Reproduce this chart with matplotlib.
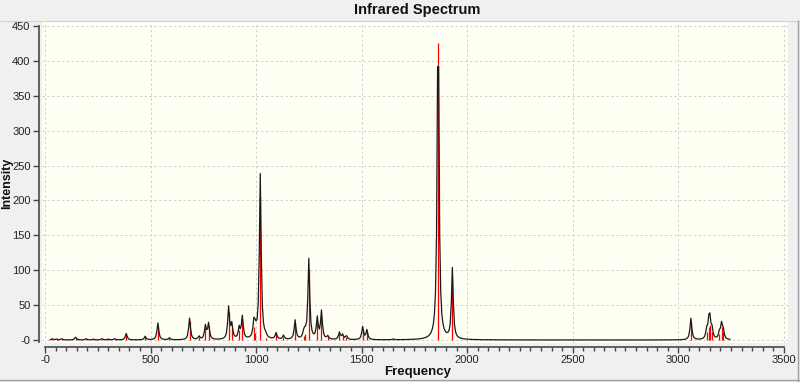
import numpy as np
import matplotlib

matplotlib.use("Agg")
import matplotlib.pyplot as plt
from matplotlib.lines import Line2D

plt.rcParams["font.family"] = ["Liberation Sans", "DejaVu Sans"]

# Calculated IR lines (frequency in cm^-1, intensity)
freqs = [35, 55, 80, 145, 195, 230, 270, 300, 330, 385, 475, 535, 590,
         685, 730, 760, 775, 870, 885, 920, 935, 990, 997, 1020, 1045,
         1095, 1130, 1185, 1225, 1232, 1250, 1290, 1310, 1340, 1395, 1410,
         1428, 1505, 1525, 1650, 1862.5, 1930, 3060, 3135, 3145, 3150,
         3160, 3195, 3205, 3213]
intens = [1.5, 1, 1.5, 3.5, 1.5, 1, 1.5, 1, 1.5, 8, 4.5, 21, 2.5,
          27, 4, 17, 20, 40, 18, 14, 28, 19, 10, 206, 3,
          8, 5, 24, 6, 8, 100, 26, 35, 4, 9, 6,
          5, 16, 12, 1, 425, 88, 27, 11, 18, 21,
          12, 8, 18, 11]

x_ticks = [0, 500, 1000, 1500, 2000, 2500, 3000, 3500]
x_labels = ["-0", "500", "1000", "1500", "2000", "2500", "3000", "3500"]
y_ticks = [0, 50, 100, 150, 200, 250, 300, 350, 400, 450]
y_labels = ["-0", "50", "100", "150", "200", "250", "300", "350", "400", "450"]

# Lorentzian broadening of the sticks, sampled coarsely like the viewer does
HWHM = 5.0
SCALE = 1.15
grid = np.arange(25, 3250, 5.0)
f = np.array(freqs)[:, None]
a = np.array(intens)[:, None]
curve = SCALE * (a / (1 + ((grid[None, :] - f) / HWHM) ** 2)).sum(axis=0)

fig = plt.figure(figsize=(8, 3.82), dpi=100, facecolor="#F0F0F0")
ax = fig.add_axes([0.0525, 0.1021, 0.9325, 0.8403], facecolor="#FFFFF4")

ax.vlines(freqs, 0, intens, color="#FF0000", lw=0.9, zorder=3)
ax.plot(grid, curve, color="#1A1A1A", lw=0.9, zorder=4)

ax.set_xlim(-14, 3520)
ax.set_ylim(-4.3, 455.6)

ax.set_xticks(x_ticks)
ax.set_xticklabels(x_labels)
ax.set_xticks(np.arange(0, 3501, 50), minor=True)
ax.set_yticks(y_ticks)
ax.set_yticklabels(y_labels)

ax.grid(True, color="#D0D0D0", lw=0.7, linestyle=(0, (2.5, 2.5)), zorder=0)

for s in ("top", "right"):
    ax.spines[s].set_visible(False)
ax.spines["left"].set_position(("outward", 2.2))
ax.spines["bottom"].set_position(("outward", 2.9))
ax.spines["left"].set_bounds(-3, 450)
ax.spines["bottom"].set_bounds(0, 3500)
for s in ("left", "bottom"):
    ax.spines[s].set_color("#555555")
    ax.spines[s].set_linewidth(1.3)

ax.tick_params(axis="both", which="major", labelsize=8, colors="#444444",
               labelcolor="#222222", width=1, length=4.5, pad=1.5)
ax.tick_params(axis="x", which="minor", colors="#444444", width=1, length=3)

fig.text(0.5219, 0.974, "Infrared Spectrum", ha="center", va="center",
         fontsize=10.5, fontweight="bold", color="#111111")
fig.text(0.5225, 0.027, "Frequency", ha="center", va="center",
         fontsize=9.5, fontweight="bold", color="#111111")
fig.text(0.009, 0.521, "Intensity", ha="center", va="center", rotation=90,
         fontsize=9, fontweight="bold", color="#111111")

# title bar separator and window edges
fig.add_artist(Line2D([0, 1], [0.945, 0.945], transform=fig.transFigure,
                      color="#D4D4D4", lw=0.8))
fig.add_artist(Line2D([0, 1], [0.004, 0.004], transform=fig.transFigure,
                      color="#A0A0A0", lw=1))
fig.add_artist(Line2D([0.997, 0.997], [0, 0.945], transform=fig.transFigure,
                      color="#A0A0A0", lw=1))

fig.savefig("out.png", dpi=100, facecolor=fig.get_facecolor())
plt.close(fig)
